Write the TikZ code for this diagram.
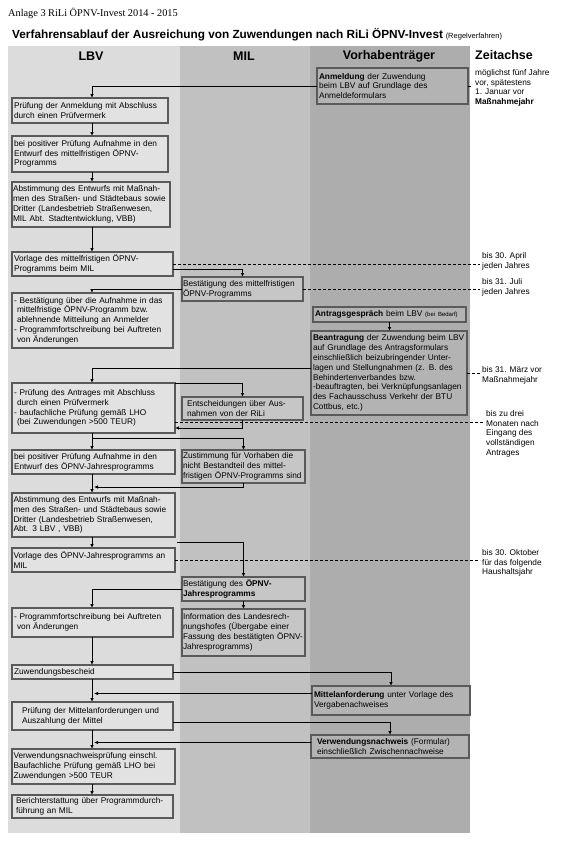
\documentclass[tikz,border=0pt]{standalone}
\usepackage{fontspec}
\setmainfont{Liberation Sans}
\newfontfamily\timesfont{Liberation Serif}
\usepackage{tikz}
\usetikzlibrary{arrows.meta,positioning,calc}

\definecolor{lbvcol}{HTML}{DCDCDC}
\definecolor{milcol}{HTML}{C1C1C1}
\definecolor{vtcol}{HTML}{ADADAD}
\definecolor{lbvfill}{HTML}{E2E2E2}
\definecolor{milfill}{HTML}{C6C6C6}
\definecolor{vtfill}{HTML}{B3B3B3}
\definecolor{boxline}{HTML}{5A5A5A}

\begin{document}
\begin{tikzpicture}[x=1pt,y=-1pt,
    >={Latex[length=4pt,width=3.5pt]},
    txt/.style={font=\fontsize{8.3}{9.8}\selectfont},
    box/.style={txt, draw=boxline, line width=1.2pt, anchor=north west, align=left,
        inner xsep=2pt, inner ysep=2pt, outer sep=0pt},
    lbvbox/.style={box, fill=lbvfill},
    milbox/.style={box, fill=milfill, inner xsep=1pt},
    vtbox/.style={box, fill=vtfill},
    flow/.style={->, line width=0.9pt},
    deadline/.style={dash pattern=on 3pt off 2pt, line width=0.6pt, shorten >=2pt},
    zeit/.style={txt, anchor=north west, align=left, inner sep=0pt},
    kopf/.style={font=\bfseries\fontsize{12.5}{14}\selectfont, inner sep=0pt}]

    \useasboundingbox (0,0) rectangle (562,847);

    % columns
    \fill[lbvcol] (8,46) rectangle (180,833);
    \fill[milcol] (180,46) rectangle (310,833);
    \fill[vtcol] (310,46) rectangle (470,833);

    \node[anchor=west, inner sep=0pt, font=\timesfont\fontsize{10.3}{12}\selectfont] (anlage) at (8,13) {Anlage 3 RiLi ÖPNV-Invest 2014 - 2015};
    \node[anchor=west, inner sep=0pt] (titel) at (12,35) {{\bfseries\fontsize{11.8}{14}\selectfont Verfahrensablauf der Ausreichung von Zuwendungen nach RiLi ÖPNV-Invest} {\fontsize{7.5}{9}\selectfont (Regelverfahren)}};

    \node[kopf] (hlbv) at (91,56) {LBV};
    \node[kopf] (hmil) at (244,56) {MIL};
    \node[kopf] (hvt) at (389,56) {Vorhabenträger};
    \node[kopf, anchor=west] (hzeit) at (475,55) {Zeitachse};

    \coordinate (lbv) at (92,0); % trunk of the LBV arrows

    % first round: mittelfristiges Programm
    \node[vtbox, text width=147pt, minimum height=36] (anm) at (317,68) {\textbf{Anmeldung} der Zuwendung\\beim LBV auf Grundlage des\\Anmeldeformulars};
    \node[lbvbox, text width=152pt, minimum height=25] (pruef) at (12,98) {Prüfung der Anmeldung mit Abschluss\\durch einen Prüfvermerk};
    \node[lbvbox, text width=152pt, minimum height=36] (aufn) at (12,136) {bei positiver Prüfung Aufnahme in den\\Entwurf des mittelfristigen ÖPNV-\\Programms};
    \node[lbvbox, text width=156pt, minimum height=45, inner xsep=1pt] (abst) at (12,182) {Abstimmung des Entwurfs mit Maßnah-\\men des Straßen- und Städtebaus sowie\\Dritter (Landesbetrieb Straßenwesen,\\MIL Abt. Stadtentwicklung, VBB)};
    \node[lbvbox, text width=157pt, minimum height=24] (vorl) at (12,252) {Vorlage des mittelfristigen ÖPNV-\\Programms beim MIL};
    \node[milbox, text width=119pt, minimum height=24] (best) at (182,277) {Bestätigung des mittelfristigen\\ÖPNV-Programms};
    \node[lbvbox, text width=157pt, minimum height=55] (mitt) at (12,293) {- Bestätigung über die Aufnahme in das\\\hspace*{3pt}mittelfristige ÖPNV-Programm bzw.\\\hspace*{3pt}ablehnende Mitteilung an Anmelder\\- Programmfortschreibung bei Auftreten\\\hspace*{3pt}von Änderungen};

    % Antrag
    \node[vtbox, text width=149pt, minimum height=15, inner ysep=1pt] (gespr) at (313,307) {\textbf{Antragsgespräch} beim LBV {\fontsize{6}{7}\selectfont (bei Bedarf)}};
    \node[vtbox, text width=152pt, minimum height=84] (antr) at (311,331) {\textbf{Beantragung} der Zuwendung beim LBV\\auf Grundlage des Antragsformulars\\einschließlich beizubringender Unter-\\lagen und Stellungnahmen (z. B. des\\Behindertenverbandes bzw.\\-beauftragten, bei Verknüpfungsanlagen\\des Fachausschuss Verkehr der BTU\\Cottbus, etc.)};
    \node[lbvbox, text width=159pt, minimum height=50] (pant) at (12,383) {- Prüfung des Antrages mit Abschluss\\\hspace*{3pt}durch einen Prüfvermerk\\- baufachliche Prüfung gemäß LHO\\\hspace*{3pt}(bei Zuwendungen >500 TEUR)};
    \node[milbox, text width=119pt, minimum height=23] (ents) at (182,397) {\hspace*{4pt}Entscheidungen über Aus-\\\hspace*{4pt}nahmen von der RiLi};

    % Jahresprogramm
    \node[lbvbox, text width=159pt, minimum height=24] (jpaufn) at (12,450) {bei positiver Prüfung Aufnahme in den\\Entwurf des ÖPNV-Jahresprogramms};
    \node[milbox, text width=121pt, minimum height=33] (zust) at (182,450) {Zustimmung für Vorhaben die\\nicht Bestandteil des mittel-\\fristigen ÖPNV-Programms sind};
    \node[lbvbox, text width=160pt, minimum height=44, inner xsep=1.5pt] (jpabst) at (12,493) {Abstimmung des Entwurfs mit Maßnah-\\men des Straßen- und Städtebaus sowie\\Dritter (Landesbetrieb Straßenwesen,\\Abt. 3 LBV , VBB)};
    \node[lbvbox, text width=160pt, minimum height=24, inner xsep=1.5pt] (jpvorl) at (12,548) {Vorlage des ÖPNV-Jahresprogramms an\\MIL};
    \node[milbox, text width=121pt, minimum height=24] (jpbest) at (182,577) {Bestätigung des \textbf{ÖPNV-}\\\textbf{Jahresprogramms}};
    \node[lbvbox, text width=157pt, minimum height=29] (fort) at (12,608) {- Programmfortschreibung bei Auftreten\\\hspace*{3pt}von Änderungen};
    \node[milbox, text width=121pt, minimum height=47] (info) at (182,609) {Information des Landesrech-\\nungshofes (Übergabe einer\\Fassung des bestätigten ÖPNV-\\Jahresprogramms)};

    % Bescheid und Auszahlung
    \node[lbvbox, text width=157pt, minimum height=14, inner ysep=1pt] (besch) at (12,665) {Zuwendungsbescheid};
    \node[vtbox, text width=154pt, minimum height=29] (manf) at (312,686) {\textbf{Mittelanforderung} unter Vorlage des\\Vergabenachweises};
    \node[lbvbox, text width=157pt, minimum height=28] (ausz) at (12,702) {\hspace*{8pt}Prüfung der Mittelanforderungen und\\\hspace*{8pt}Auszahlung der Mittel};
    \node[vtbox, text width=154pt, minimum height=23, inner ysep=1pt] (vnw) at (311,735) {\hspace*{4pt}\textbf{Verwendungsnachweis} (Formular)\\\hspace*{4pt}einschließlich Zwischennachweise};
    \node[lbvbox, text width=160pt, minimum height=35, inner xsep=1.5pt] (vnwp) at (12,749) {Verwendungsnachweisprüfung einschl.\\Baufachliche Prüfung gemäß LHO bei\\Zuwendungen >500 TEUR};
    \node[lbvbox, text width=157pt, minimum height=23] (ber) at (12,795) {\hspace*{2pt}Berichterstattung über Programmdurch-\\\hspace*{2pt}führung an MIL};

    % Zeitachse
    \node[zeit] (zt1) at (475,69) {möglichst fünf Jahre\\vor, spätestens\\1. Januar vor\\\textbf{Maßnahmejahr}};
    \node[zeit] (zt2) at (482,252) {bis 30. April\\jeden Jahres};
    \node[zeit] (zt3) at (482,278) {bis 31. Juli\\jeden Jahres};
    \node[zeit] (zt4) at (482,366) {bis 31. März vor\\Maßnahmejahr};
    \node[zeit] (zt5) at (486,410) {bis zu drei\\Monaten nach\\Eingang des\\vollständigen\\Antrages};
    \node[zeit] (zt6) at (482,549) {bis 30. Oktober\\für das folgende\\Haushaltsjahr};

    % Fristen
    \draw[deadline] (anm.east) -- (zt1.west |- anm.east);
    \draw[deadline] (vorl.east) -- (zt2.west |- vorl.east);
    \draw[deadline] (best.east) -- (zt3.west |- best.east);
    \draw[deadline] (antr.east) -- (zt4.west |- antr.east);
    \draw[deadline] ($(pant.east)+(0,14)$) coordinate (d4) -- (zt5.west |- d4);
    \draw[deadline] (jpvorl.east) -- (zt6.west |- jpvorl.east);

    % Ablauf
    \draw[flow] (anm.west) -| (pruef.north -| lbv);
    \draw[flow] (pruef.south -| lbv) -- (aufn.north -| lbv);
    \draw[flow] (aufn.south -| lbv) -- (abst.north -| lbv);
    \draw[flow] (abst.south -| lbv) -- (vorl.north -| lbv);
    \draw[flow] ($(vorl.east)+(0,5)$) -| (best.north);
    \draw[flow] (best.west) -| (mitt.north -| lbv);
    \draw[flow] (gespr.south) -- (gespr.south |- antr.north);
    \draw[flow] ($(antr.west)+(0,-5)$) -| (pant.north -| lbv);
    \draw[flow] (pant.north east) -| (ents.north);
    \draw[flow] (ents.south) |- ($(pant.east)+(0,20)$);
    \draw[flow] (pant.south -| lbv) -- (jpaufn.north -| lbv);
    \draw[flow] ($(pant.south -| lbv)+(0,5)$) -| (zust.north);
    \draw[flow] (zust.south) |- ($(jpabst.north -| lbv)+(2,-6)$);
    \draw[flow] (jpaufn.south -| lbv) -- (jpabst.north -| lbv);
    \draw[flow] (jpabst.south -| lbv) -- (jpvorl.north -| lbv);
    \draw[flow] ($(jpvorl.north east)+(2,-6)$) -| (jpbest.north);
    \draw[flow] (jpbest.west) -| (fort.north -| lbv);
    \draw[flow] (jpbest.south) -- (info.north);
    \draw[flow] (fort.south -| lbv) -- (besch.north -| lbv);
    \draw[flow] (besch.east) -| (manf.north);
    \draw[flow] ($(manf.west)+(0,-7)$) -- ($(manf.west -| lbv)+(2,-7)$);
    \draw[flow] (besch.south -| lbv) -- (ausz.north -| lbv);
    \draw[flow] ($(ausz.east)+(0,6)$) -| (vnw.north);
    \draw[flow] ($(vnw.west)+(0,-4)$) -- ($(vnw.west -| lbv)+(2,-4)$);
    \draw[flow] (ausz.south -| lbv) -- (vnwp.north -| lbv);
    \draw[flow] (vnwp.south -| lbv) -- (ber.north -| lbv);
\end{tikzpicture}
\end{document}
